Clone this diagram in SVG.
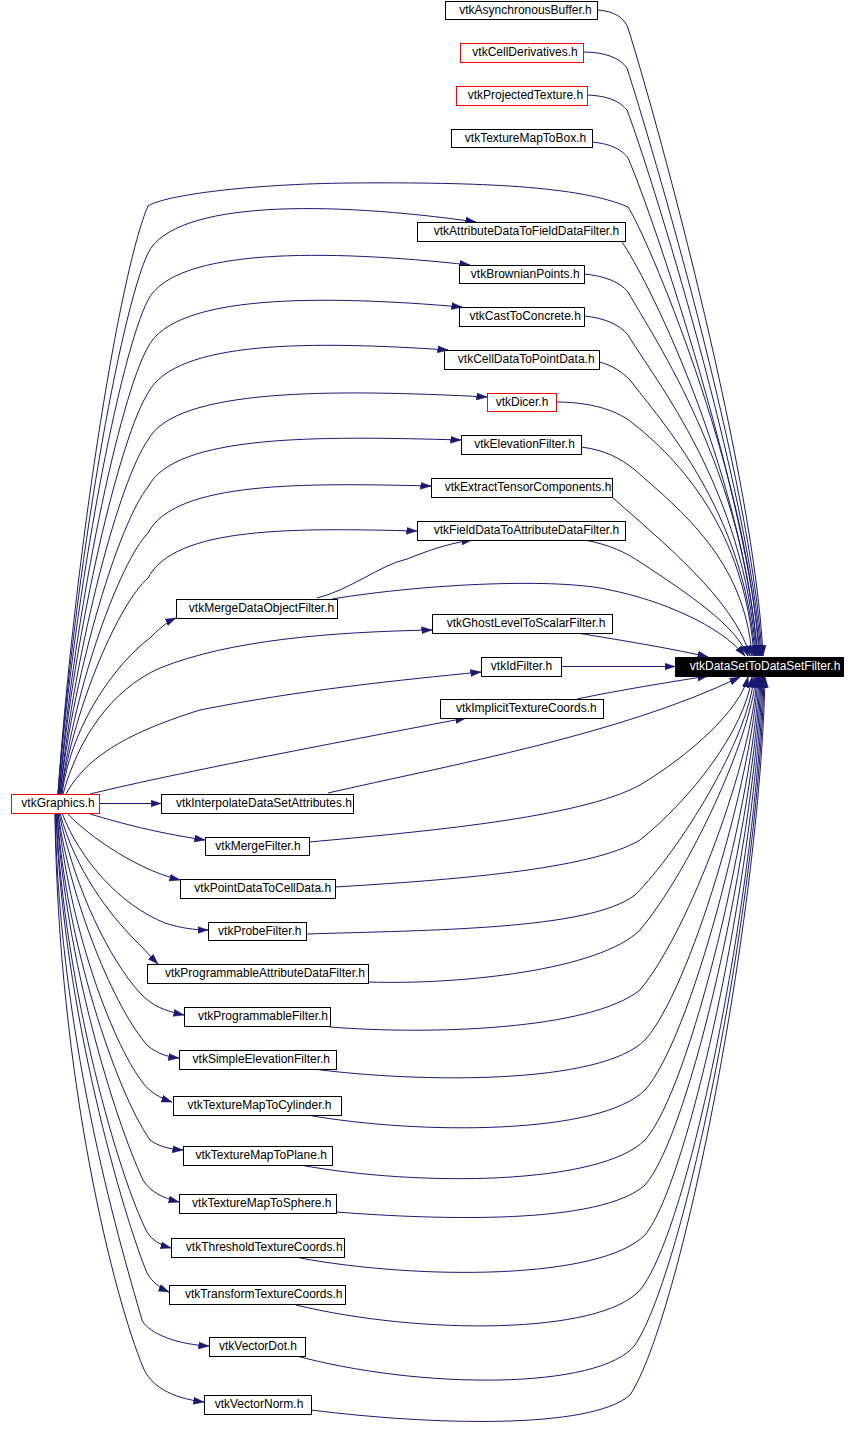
<svg xmlns="http://www.w3.org/2000/svg" width="856" height="1436" viewBox="0 0 856 1436">
<style>
.n rect{fill:#fff;stroke:#000;stroke-width:1}
.r rect{stroke:#f00}
.n text{font-family:"Liberation Sans",Arial,Helvetica,sans-serif;font-size:12px;fill:#000;text-anchor:middle}
.t rect{fill:#000}
.t text{fill:#fff}
.e path{fill:none;stroke:#191970;stroke-width:1;marker-end:url(#a)}
</style>
<defs>
<marker id="a" markerUnits="userSpaceOnUse" markerWidth="11" markerHeight="8" viewBox="0 0 11 8" refX="10.5" refY="4" orient="auto">
<path d="M0,0.5 L10.5,4 L0,7.5 z" fill="#191970" stroke="#191970" stroke-width="0.5"/>
</marker>
</defs>
<rect width="856" height="1436" fill="#fff"/>
<g id="edges" class="e">
<!-- top nodes to target -->
<path d="M597,10 C615,11 624,18 628,28 C660,130 755,480 763,656"/>
<path d="M583,52 C605,52 620,58 627,68 C650,140 752,480 762,656"/>
<path d="M587,95 C610,96 620,102 627,110 C650,170 750,490 761,656"/>
<path d="M592,142 C612,144 622,150 628,158 C655,220 748,500 760,656"/>
<!-- graphics direct to target -->
<path d="M58,794 C75,550 120,270 148,206 C165,195 250,184 350,183 C480,182 580,186 628,207 C645,232 748,470 759,656"/>
<!-- graphics fan up -->
<path d="M58,794 C75,567 120,313 148,253 C175,200 329,201 476,222"/>
<path d="M58,794 C75,587 120,354 148,300 C175,248 325,249 470,265"/>
<path d="M59,794 C75,606 120,396 148,347 C175,294 321,295 462,307"/>
<path d="M59,794 C75,626 120,437 148,393 C175,340 313,341 448,350"/>
<path d="M60,794 C75,645 120,479 148,440 C175,388 334,389 487,397"/>
<path d="M60,794 C75,665 120,521 148,487 C175,434 320,436 461,440"/>
<path d="M61,794 C75,684 120,562 148,533 C175,481 304,483 431,486"/>
<path d="M61,794 C75,703 120,602 148,578 C175,526 296,528 417,531"/>
<path d="M62,794 C72,720 120,660 150,638 C158,630 165,623 176,618"/>
<path d="M63,794 C78,740 110,690 160,668 C230,640 330,632 432,630"/>
<path d="M66,794 C85,760 120,735 200,710 C300,690 400,680 481,672"/>
<path d="M90,794 C180,772 350,740 466,718"/>
<!-- intermediate to target (upper) -->
<path d="M622,242 C645,275 740,460 758,656"/>
<path d="M584,274 C605,276 620,282 628,292 C655,340 745,470 757,656"/>
<path d="M584,316 C605,318 620,325 628,335 C655,380 745,490 756,656"/>
<path d="M599,362 C612,365 622,372 630,380 C660,420 745,510 755,656"/>
<path d="M556,402 C590,402 615,410 630,421 C680,460 745,530 754,656"/>
<path d="M581,447 C605,450 620,458 635,470 C680,510 745,560 752,656"/>
<path d="M612,497 C660,540 735,600 750,656"/>
<path d="M585,540 C610,545 625,552 640,562 C690,595 735,625 748,656"/>
<path d="M317,598 C350,590 380,565 407,559 C425,552 445,544 472,540"/>
<path d="M332,599 C430,583 560,578 610,590 C660,600 720,625 745,656"/>
<path d="M577,633 C620,640 680,650 708,657"/>
<path d="M561,666.5 L675,666.5"/>
<path d="M577,699 C620,690 670,682 708,676"/>
<!-- graphics fan down -->
<path d="M99,803.5 L161,803.5"/>
<path d="M87,813 C110,820 150,832 205,840"/>
<path d="M67,813 C80,828 130,868 180,880"/>
<path d="M62,813 C80,860 120,905 165,923 C180,928 195,930 208,930"/>
<path d="M60,813 C75,870 110,915 135,940 C145,950 152,958 158,964"/>
<path d="M59,813 C75,890 110,960 140,993 C152,1006 165,1011 184,1015"/>
<path d="M58,813 C70,900 115,1010 148,1046 C158,1054 168,1057 179,1058"/>
<path d="M58,813 C68,920 110,1040 143,1083 C150,1092 160,1098 172,1102"/>
<path d="M57,813 C66,940 115,1090 150,1140 C158,1146 168,1149 183,1150"/>
<path d="M57,813 C65,960 115,1120 143,1180 C150,1192 163,1198 179,1202"/>
<path d="M56,813 C64,990 120,1180 147,1232 C152,1240 160,1245 171,1248"/>
<path d="M56,813 C62,1010 125,1220 147,1273 C152,1282 160,1288 169,1292"/>
<path d="M55,813 C60,1050 125,1260 142,1320 C146,1330 170,1344 209,1346"/>
<path d="M55,813 C58,1080 115,1300 143,1367 C150,1385 170,1398 204,1402"/>
<!-- intermediate to target (lower) -->
<path d="M328,793 C450,765 620,735 740,677"/>
<path d="M309,842 C420,832 580,818 640,785 C690,755 740,710 748,677"/>
<path d="M335,887 C450,880 590,870 640,840 C690,800 745,730 752,677"/>
<path d="M307,934 C430,930 590,930 635,895 C680,850 748,740 754,677"/>
<path d="M368,982 C460,985 600,970 640,930 C690,870 750,740 756,677"/>
<path d="M330,1027 C430,1035 590,1030 640,990 C690,930 752,760 757,677"/>
<path d="M313,1069 C420,1083 600,1085 645,1040 C690,990 752,780 758,677"/>
<path d="M307,1115 C420,1135 600,1135 645,1090 C690,1040 754,800 759,677"/>
<path d="M300,1165 C420,1187 600,1185 645,1140 C690,1090 755,820 760,677"/>
<path d="M336,1212 C440,1220 600,1225 645,1185 C690,1135 756,840 761,677"/>
<path d="M300,1258 C420,1280 600,1280 645,1235 C690,1180 757,860 762,677"/>
<path d="M296,1305 C420,1335 600,1335 640,1290 C690,1230 758,880 763,677"/>
<path d="M293,1355 C420,1390 600,1390 635,1345 C685,1270 759,900 764,677"/>
<path d="M311,1410 C430,1425 590,1430 630,1395 C680,1320 760,920 765,677"/>
</g>
<g id="n_async" class="n"><rect x="445.5" y="1.5" width="152" height="18"/><text x="525.5" y="13.5">vtkAsynchronousBuffer.h</text></g>
<g id="n_cellderiv" class="n r"><rect x="460.5" y="43.5" width="123" height="19"/><text x="525" y="56">vtkCellDerivatives.h</text></g>
<g id="n_projtex" class="n r"><rect x="456.5" y="86.5" width="131" height="19"/><text x="525.4" y="99">vtkProjectedTexture.h</text></g>
<g id="n_texbox" class="n"><rect x="451.5" y="129.5" width="141" height="18"/><text x="525.5" y="141.5">vtkTextureMapToBox.h</text></g>
<g id="n_attr" class="n"><rect x="417.5" y="222.5" width="208" height="19"/><text x="526.5" y="235">vtkAttributeDataToFieldDataFilter.h</text></g>
<g id="n_brown" class="n"><rect x="459.5" y="265.5" width="125" height="18"/><text x="525.2" y="277.5">vtkBrownianPoints.h</text></g>
<g id="n_cast" class="n"><rect x="459.5" y="307.5" width="125" height="19"/><text x="525.2" y="320">vtkCastToConcrete.h</text></g>
<g id="n_celldata" class="n"><rect x="444.5" y="350.5" width="155" height="19"/><text x="526.2" y="363">vtkCellDataToPointData.h</text></g>
<g id="n_dicer" class="n r"><rect x="487.5" y="393.5" width="69" height="18"/><text x="522" y="405.5">vtkDicer.h</text></g>
<g id="n_elev" class="n"><rect x="461.5" y="435.5" width="120" height="19"/><text x="524.5" y="448">vtkElevationFilter.h</text></g>
<g id="n_extract" class="n"><rect x="431.5" y="478.5" width="181" height="19"/><text x="528" y="491">vtkExtractTensorComponents.h</text></g>
<g id="n_fielddata" class="n"><rect x="417.5" y="521.5" width="208" height="19"/><text x="526.5" y="534">vtkFieldDataToAttributeDataFilter.h</text></g>
<g id="n_mergedo" class="n"><rect x="176.5" y="599.5" width="161" height="19"/><text x="261.5" y="612">vtkMergeDataObjectFilter.h</text></g>
<g id="n_ghost" class="n"><rect x="432.5" y="614.5" width="180" height="19"/><text x="526" y="627">vtkGhostLevelToScalarFilter.h</text></g>
<g id="n_idfilter" class="n"><rect x="481.5" y="657.5" width="80" height="19"/><text x="521.5" y="670">vtkIdFilter.h</text></g>
<g id="n_implicit" class="n"><rect x="440.5" y="699.5" width="163" height="19"/><text x="526.3" y="712">vtkImplicitTextureCoords.h</text></g>
<g id="n_target" class="n t"><rect x="675.5" y="657.5" width="168" height="19"/><text x="765" y="670">vtkDataSetToDataSetFilter.h</text></g>
<g id="n_graphics" class="n r"><rect x="11.5" y="794.5" width="88" height="19"/><text x="58" y="807">vtkGraphics.h</text></g>
<g id="n_interp" class="n"><rect x="161.5" y="794.5" width="192" height="19"/><text x="264" y="807">vtkInterpolateDataSetAttributes.h</text></g>
<g id="n_mergef" class="n"><rect x="205.5" y="837.5" width="104" height="18"/><text x="258" y="849.5">vtkMergeFilter.h</text></g>
<g id="n_pointdata" class="n"><rect x="180.5" y="879.5" width="155" height="19"/><text x="262.7" y="892">vtkPointDataToCellData.h</text></g>
<g id="n_probe" class="n"><rect x="208.5" y="922.5" width="98" height="18"/><text x="259.8" y="934.5">vtkProbeFilter.h</text></g>
<g id="n_progattr" class="n"><rect x="147.5" y="964.5" width="221" height="19"/><text x="265" y="977">vtkProgrammableAttributeDataFilter.h</text></g>
<g id="n_progf" class="n"><rect x="184.5" y="1007.5" width="146" height="19"/><text x="263" y="1020">vtkProgrammableFilter.h</text></g>
<g id="n_simpleelev" class="n"><rect x="179.5" y="1050.5" width="157" height="19"/><text x="261.3" y="1063">vtkSimpleElevationFilter.h</text></g>
<g id="n_cyl" class="n"><rect x="173.5" y="1096.5" width="168" height="19"/><text x="259.5" y="1109">vtkTextureMapToCylinder.h</text></g>
<g id="n_plane" class="n"><rect x="183.5" y="1146.5" width="149" height="19"/><text x="261.2" y="1159">vtkTextureMapToPlane.h</text></g>
<g id="n_sphere" class="n"><rect x="179.5" y="1194.5" width="157" height="19"/><text x="261.8" y="1207">vtkTextureMapToSphere.h</text></g>
<g id="n_thresh" class="n"><rect x="171.5" y="1238.5" width="173" height="19"/><text x="264.2" y="1251">vtkThresholdTextureCoords.h</text></g>
<g id="n_transform" class="n"><rect x="169.5" y="1285.5" width="176" height="19"/><text x="263.7" y="1298">vtkTransformTextureCoords.h</text></g>
<g id="n_vdot" class="n"><rect x="209.5" y="1337.5" width="96" height="19"/><text x="258" y="1350">vtkVectorDot.h</text></g>
<g id="n_vnorm" class="n"><rect x="204.5" y="1395.5" width="107" height="19"/><text x="259" y="1408">vtkVectorNorm.h</text></g>
</svg>
